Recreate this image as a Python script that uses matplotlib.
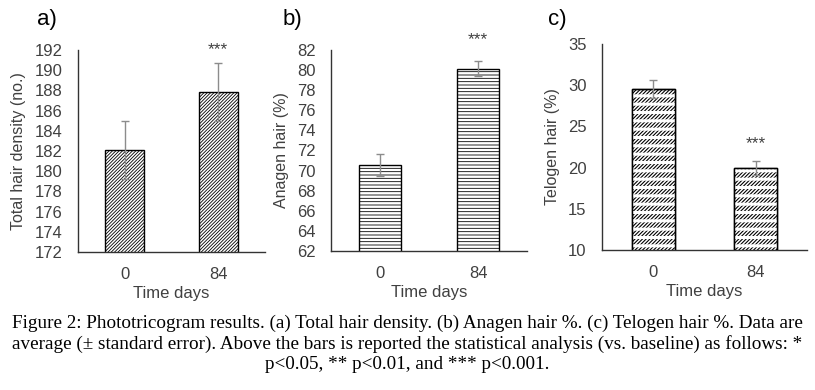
import matplotlib
matplotlib.use("Agg")
import matplotlib.pyplot as plt

# --- data ---
days = ["0", "84"]
density = [182.1, 187.85]
density_err = [2.9, 2.9]
anagen = [70.55, 80.15]
anagen_err = [1.1, 0.75]
telogen = [29.5, 19.9]
telogen_err = [1.1, 0.85]

plt.rcParams['font.family'] = ['Liberation Sans', 'DejaVu Sans']
plt.rcParams['hatch.linewidth'] = 0.6

txt = '#404040'
err_col = '#8c8c8c'

fig = plt.figure(figsize=(8.15, 3.9), dpi=100)

panels = [
    # axes rect, values, errors, ylim, step, ylabel, hatch, panel letter, star y
    ([78/815, 1-252/390, 187/815, 202/390], density, density_err, (172, 192), 2,
     "Total hair density (no.)", '/' * 10, "a)", 192.0),
    ([331/815, 1-251/390, 196/815, 201/390], anagen, anagen_err, (62, 82), 2,
     "Anagen hair (%)", '-----', "b)", 83.0),
    ([602/815, 1-250/390, 205/815, 206/390], telogen, telogen_err, (10, 35), 5,
     "Telogen hair (%)", '/' * 9, "c)", 22.9),
]
letter_x = [37, 283, 548]

for i, (rect, vals, errs, ylim, step, ylab, hatch, letter, star_y) in enumerate(panels):
    ax = fig.add_axes(rect)
    x = range(len(days))
    with plt.rc_context({'hatch.linewidth': 0.8 if i == 2 else 0.6}):
        ax.bar(x, vals, width=0.42, color='white', edgecolor='black', linewidth=1.0,
               hatch=hatch, zorder=2)
    if i == 2:
        # rows of short slashes: break diagonal hatch with white horizontal lines
        with plt.rc_context({'hatch.linewidth': 2.2}):
            ax.bar(x, vals, width=0.42, fill=False, edgecolor='white', linewidth=0,
                   hatch='--', zorder=3)
        ax.bar(x, vals, width=0.42, fill=False, edgecolor='black', linewidth=1.0,
               zorder=4)
    ax.errorbar(x, vals, yerr=errs, fmt='none', ecolor=err_col, elinewidth=1.0,
                capsize=3, capthick=1.0, zorder=5)
    ax.set_ylim(*ylim)
    ax.set_xlim(-0.5, 1.5)
    ax.set_yticks(range(ylim[0], ylim[1] + 1, step))
    ax.set_xticks(list(x))
    ax.set_xticklabels(days)
    ax.tick_params(axis='both', length=0, labelsize=12, colors=txt)
    ax.tick_params(axis='y', pad=11)
    ax.tick_params(axis='x', pad=11)
    for s in ['top', 'right']:
        ax.spines[s].set_visible(False)
    for s in ['left', 'bottom']:
        ax.spines[s].set_color('#333333')
        ax.spines[s].set_linewidth(1.0)
    ax.set_ylabel(ylab, fontsize=11.5, color=txt, labelpad=6)
    ax.set_xlabel("Time days", fontsize=12, color=txt, labelpad=3)
    ax.text(1, star_y, "***", ha='center', va='center', fontsize=12.5, color=txt,
            clip_on=False)
    fig.text(letter_x[i] / 815, 1 - 20 / 390, letter, fontsize=16, color='black',
             ha='left', va='center')

caption = ("Figure 2: Phototricogram results. (a) Total hair density. (b) Anagen hair %. "
           "(c) Telogen hair %. Data are\n"
           "average (\u00b1 standard error). Above the bars is reported the statistical "
           "analysis (vs. baseline) as follows: *\n"
           "p<0.05, ** p<0.01, and *** p<0.001.")
fig.text(0.5, 1 - 344 / 390, caption, ha='center', va='center', fontsize=13.8,
         family=['Liberation Serif', 'DejaVu Serif'], linespacing=1.22, color='black')

fig.savefig("out.png", dpi=100)
